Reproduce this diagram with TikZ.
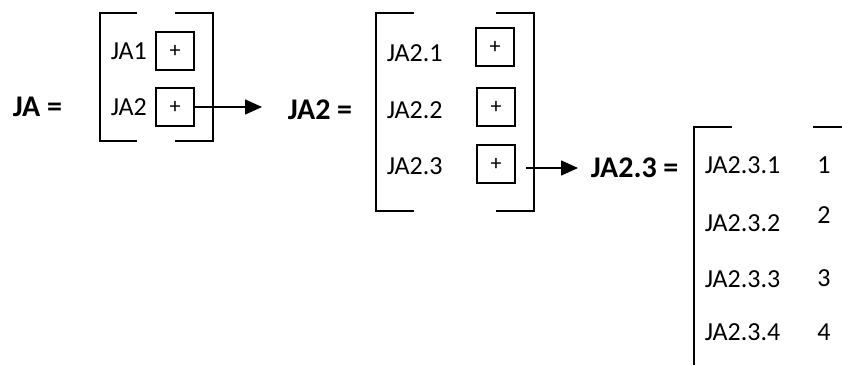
\documentclass[tikz,border=0pt]{standalone}
\usepackage{fontspec}
\setmainfont{Carlito}
\usetikzlibrary{arrows.meta}

\begin{document}
\begin{tikzpicture}[x=1pt, y=-1pt, line width=1.6pt,
    item/.style = {anchor=west, inner sep=0pt, font=\fontsize{26}{30}\selectfont},
    eqlabel/.style = {anchor=west, inner sep=0pt, font=\fontsize{30}{34}\selectfont\bfseries},
    plusbox/.style = {draw, minimum size=38pt, inner sep=0pt, font=\fontsize{22}{26}\selectfont},
    tip/.style = {-{Triangle[length=17pt, width=15pt]}}
  ]

      \useasboundingbox (0, 0) rectangle (842, 365);

      % JA
      \node[eqlabel] (ja) at (12, 107) {JA =};
      \draw (137, 13) -- (100, 13) -- (100, 141) -- (137, 141);
      \draw (175, 13) -- (213, 13) -- (213, 141) -- (175, 141);
      \node[item] (ja1) at (110, 51) {JA1};
      \node[item] (ja2) at (110, 107) {JA2};
      \node[plusbox] (p1) at (175, 51) {+};
      \node[plusbox] (p2) at (175, 107) {+};

      % JA2
      \node[eqlabel] (eqa) at (287, 110) {JA2 =};
      \draw (414, 13) -- (376, 13) -- (376, 211) -- (414, 211);
      \draw (496, 13) -- (534, 13) -- (534, 211) -- (496, 211);
      \node[item] (ja21) at (386, 53) {JA2.1};
      \node[item] (ja22) at (386, 110) {JA2.2};
      \node[item] (ja23) at (386, 166) {JA2.3};
      \node[plusbox] (p21) at (495, 47) {+};
      \node[plusbox] (p22) at (496, 107) {+};
      \node[plusbox] (p23) at (496, 164) {+};

      % JA2.3
      \node[eqlabel] (eqb) at (590, 168) {JA2.3 =};
      \draw (732, 127) -- (694, 127) -- (694, 365);
      \draw (813, 127) -- (842, 127);
      \node[item] (ja231) at (704, 165) {JA2.3.1};
      \node[item] (ja232) at (704, 223) {JA2.3.2};
      \node[item] (ja233) at (704, 279) {JA2.3.3};
      \node[item] (ja234) at (704, 332) {JA2.3.4};
      \node[item, anchor=center] (n1) at (824, 165) {1};
      \node[item, anchor=center] (n2) at (824, 215) {2};
      \node[item, anchor=center] (n3) at (824, 278) {3};
      \node[item, anchor=center] (n4) at (824, 332) {4};

      % arrows
      \coordinate (s2) at (526, 168);
      \draw[tip, shorten >=25pt] (p2.east) -- (eqa.west |- p2.east);
      \draw[tip, shorten >=12pt] (s2) -- (eqb.west |- s2);

    \end{tikzpicture}
\end{document}
